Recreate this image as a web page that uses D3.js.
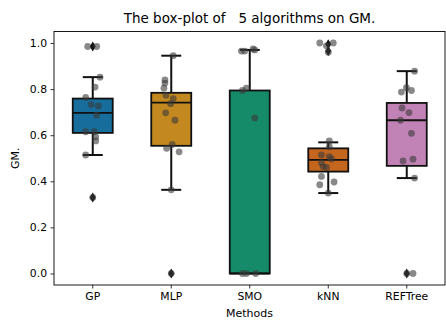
<!DOCTYPE html>
<html><head><meta charset="utf-8">
<script src="https://cdn.jsdelivr.net/npm/d3@7"></script>
<style>body{margin:0;background:#fff}svg{display:block}text{font-family:"DejaVu Sans",sans-serif;fill:#000}</style>
</head><body>
<svg id="c" width="446" height="320"></svg>
<script>
const categories = ["GP","MLP","SMO","kNN","REFTree"];
const colors = ["#176d9c","#c38820","#168b6a","#c4661d","#c183b5"];
const yTicks = [0.0,0.2,0.4,0.6,0.8,1.0];
// box statistics
const lowWhisker = [0.514,0.363,0.0,0.349,0.414];
const q1 = [0.610,0.554,0.0,0.442,0.467];
const median = [0.697,0.741,0.0,0.493,0.665];
const q3 = [0.759,0.784,0.794,0.543,0.740];
const highWhisker = [0.852,0.945,0.970,0.569,0.878];
const outliers = [[0.985,0.33],[0.0],[],[0.995,0.965],[0.0]];
// strip points: values and jitter (fraction of category step)
const gpVals = [0.985,0.985,0.852,0.809,0.764,0.733,0.727,0.687,0.615,0.615,0.593,0.575,0.514,0.33];
const gpJit  = [-0.064,0.05,0.093,0.03,-0.09,-0.022,0.071,0.05,-0.09,0.02,0.038,0.038,-0.09,0.0];
const mlpVals = [0.945,0.840,0.826,0.804,0.773,0.759,0.737,0.697,0.665,0.560,0.543,0.528,0.363,0.0];
const mlpJit  = [0.025,-0.08,-0.08,-0.093,-0.068,0.025,-0.008,-0.071,0.047,0.013,-0.059,0.1,0.0,0.0];
const smoVals = [0.965,0.965,0.974,0.970,0.794,0.804,0.675,0.0,0.0,0.0];
const smoJit  = [-0.106,-0.064,0.042,0.064,-0.093,-0.042,0.064,-0.093,-0.042,0.076];
const knnVals = [1.0,1.0,0.988,0.96,0.575,0.55,0.514,0.507,0.497,0.481,0.464,0.46,0.421,0.397,0.385,0.349];
const knnJit  = [-0.108,0.064,-0.023,0.0,0.013,0.013,-0.087,0.013,0.041,-0.087,-0.066,-0.023,-0.087,0.074,-0.108,0.0];
const refVals = [0.878,0.787,0.806,0.794,0.718,0.698,0.665,0.608,0.488,0.496,0.414,0.0,0.0];
const refJit  = [0.1,-0.068,-0.004,0.06,-0.06,0.029,-0.08,0.06,-0.047,0.08,0.1,0.08,0.0];
const pointVals = [gpVals,mlpVals,smoVals,knnVals,refVals];
const pointJit = [gpJit,mlpJit,smoJit,knnJit,refJit];

const svg = d3.select("#c");
const L = 54, R = 445, T = 31.5, B = 285;
const x = d3.scaleBand().domain(categories).range([53.5, 446]).padding(0);
const y = d3.scaleLinear().domain([-0.05,1.05]).range([B,T]);
const step = x.bandwidth();
const boxW = 40, capW = 20;

// axes
const gx = svg.append("g").attr("transform",`translate(0,${B})`)
  .call(d3.axisBottom(x).tickSize(3.5).tickPadding(3.5));
const gy = svg.append("g").attr("transform",`translate(${L},0)`)
  .call(d3.axisLeft(y).tickValues(yTicks).tickFormat(d3.format(".1f")).tickSize(3.5).tickPadding(3.5));
[gx,gy].forEach(g=>{g.select(".domain").remove();g.selectAll("text").attr("font-size",10.8).attr("font-family","DejaVu Sans");g.selectAll("line").attr("stroke","#000").attr("stroke-width",0.8);});

const plot = svg.append("g");
categories.forEach((c,i)=>{
  const cx = x(c)+step/2;
  const g = plot.append("g");
  g.append("line").attr("x1",cx).attr("x2",cx).attr("y1",y(q3[i])).attr("y2",y(highWhisker[i])).attr("stroke","#111").attr("stroke-width",2);
  g.append("line").attr("x1",cx).attr("x2",cx).attr("y1",y(q1[i])).attr("y2",y(lowWhisker[i])).attr("stroke","#111").attr("stroke-width",2);
  g.append("line").attr("x1",cx-capW/2).attr("x2",cx+capW/2).attr("y1",y(highWhisker[i])).attr("y2",y(highWhisker[i])).attr("stroke","#111").attr("stroke-width",2);
  if (lowWhisker[i] !== q1[i]) g.append("line").attr("x1",cx-capW/2).attr("x2",cx+capW/2).attr("y1",y(lowWhisker[i])).attr("y2",y(lowWhisker[i])).attr("stroke","#111").attr("stroke-width",2);
  g.append("rect").attr("x",cx-boxW/2).attr("width",boxW).attr("y",y(q3[i])).attr("height",y(q1[i])-y(q3[i]))
    .attr("fill",colors[i]).attr("stroke","#111").attr("stroke-width",1.8);
  g.append("line").attr("x1",cx-boxW/2).attr("x2",cx+boxW/2).attr("y1",y(median[i])).attr("y2",y(median[i])).attr("stroke","#111").attr("stroke-width",1.8);
  g.selectAll("path.o").data(outliers[i]).join("path").attr("class","o")
    .attr("d","M0,-5L3,0L0,5L-3,0Z").attr("transform",d=>`translate(${cx},${y(d)})`).attr("fill","#111");
});
categories.forEach((c,i)=>{
  const cx = x(c)+step/2;
  plot.append("g").selectAll("circle").data(pointVals[i].map((v,k)=>[v,pointJit[i][k]])).join("circle")
    .attr("cx",d=>cx+d[1]*step).attr("cy",d=>y(d[0])).attr("r",3.4)
    .attr("fill","#3a3a3a").attr("fill-opacity",0.6);
});

svg.append("rect").attr("x",L).attr("y",T).attr("width",R-L).attr("height",B-T).attr("fill","none").attr("stroke","#000").attr("stroke-width",0.9);

svg.append("text").attr("x",(L+R)/2).attr("y",23).attr("text-anchor","middle").attr("font-size",13.5).attr("xml:space","preserve").style("white-space","pre")
  .text("The box-plot of   5 algorithms on GM.");
svg.append("text").attr("x",(L+R)/2).attr("y",317).attr("text-anchor","middle").attr("font-size",11).text("Methods");
svg.append("text").attr("transform",`translate(19,${(T+B)/2}) rotate(-90)`).attr("text-anchor","middle").attr("font-size",11).text("GM.");
</script>
</body></html>
